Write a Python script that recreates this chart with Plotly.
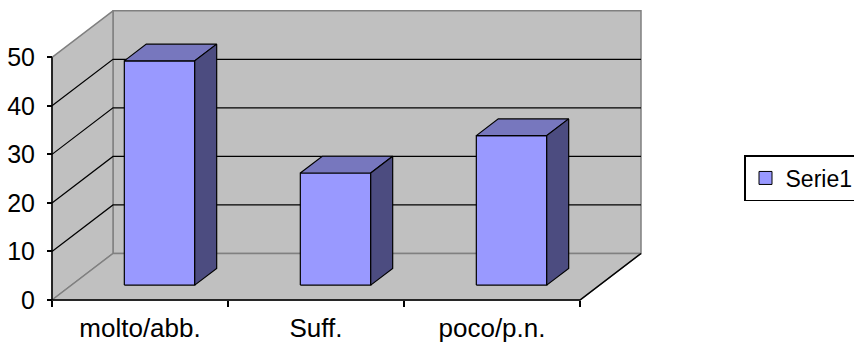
import plotly.graph_objects as go

# Data
categories = ["molto/abb.", "Suff.", "poco/p.n."]
values = [46.2, 23.1, 30.8]
series_name = "Serie1"
y_ticks = [0, 10, 20, 30, 40, 50]

# Styling / geometry of the oblique 3D box
W, H = 854, 344
PX_PER_CAT = 176.0          # pixels per category slot
PX_PER_UNIT = 4.854         # pixels per value unit
FRONT_LEFT_PX = 52          # x pixel of the front-left corner
FRONT_BASE_PX = 300         # y pixel of the front baseline
DEPTH_DX = 61 / PX_PER_CAT  # depth shift in category units
DEPTH_DY = 46.5 / PX_PER_UNIT  # depth shift in value units
BAR_W = 0.4
F1, F2 = 0.32, 0.68         # bar depth span (fraction of box depth)

WALL = "#C0C0C0"
WALL_EDGE = "#808080"
FRONT_C = "#9999FF"
TOP_C = "#7777BE"
SIDE_C = "#4C4C80"
FONT = "Arial, Liberation Sans, sans-serif"

x_min = -0.5 - FRONT_LEFT_PX / PX_PER_CAT
x_max = x_min + W / PX_PER_CAT
y_min = -(H - FRONT_BASE_PX) / PX_PER_UNIT
y_max = y_min + H / PX_PER_UNIT

n = len(categories)
xl, xr = -0.5, n - 0.5
ytop = y_ticks[-1]

fig = go.Figure()


def poly(xs, ys, fill, line, width=1):
    fig.add_trace(go.Scatter(
        x=list(xs) + [xs[0]], y=list(ys) + [ys[0]], mode="lines",
        fill="toself", fillcolor=fill,
        line=dict(color=line, width=width),
        hoverinfo="skip", showlegend=False))


def seg(xs, ys, color, width=1):
    fig.add_trace(go.Scatter(
        x=xs, y=ys, mode="lines", line=dict(color=color, width=width),
        hoverinfo="skip", showlegend=False))


# back wall
poly([xl + DEPTH_DX, xr + DEPTH_DX, xr + DEPTH_DX, xl + DEPTH_DX],
     [DEPTH_DY, DEPTH_DY, ytop + DEPTH_DY, ytop + DEPTH_DY], WALL, WALL_EDGE, 1.5)
# left side wall
poly([xl, xl + DEPTH_DX, xl + DEPTH_DX, xl],
     [0, DEPTH_DY, ytop + DEPTH_DY, ytop], WALL, WALL_EDGE, 1.5)
# floor
poly([xl, xr, xr + DEPTH_DX, xl + DEPTH_DX],
     [0, 0, DEPTH_DY, DEPTH_DY], WALL, WALL_EDGE, 1.5)

# gridlines on side and back walls
for t in y_ticks[1:-1]:
    seg([xl, xl + DEPTH_DX, xr + DEPTH_DX],
        [t, t + DEPTH_DY, t + DEPTH_DY], "black", 1.2)

# bars
for i, v in enumerate(values):
    x0 = i - BAR_W / 2 + F1 * DEPTH_DX
    x1 = i + BAR_W / 2 + F1 * DEPTH_DX
    yb = F1 * DEPTH_DY
    yt = v + F1 * DEPTH_DY
    ddx = (F2 - F1) * DEPTH_DX
    ddy = (F2 - F1) * DEPTH_DY
    poly([x0, x1, x1, x0], [yb, yb, yt, yt], FRONT_C, "black", 1.2)
    poly([x0, x1, x1 + ddx, x0 + ddx], [yt, yt, yt + ddy, yt + ddy], TOP_C, "black", 1.2)
    poly([x1, x1 + ddx, x1 + ddx, x1], [yb, yb + ddy, yt + ddy, yt], SIDE_C, "black", 1.2)

# front floor edge, right floor edge and value axis line
seg([xr + DEPTH_DX, xr, xl, xl], [DEPTH_DY, 0, 0, ytop], "black", 1.5)

# legend entry
fig.add_trace(go.Scatter(
    x=[None], y=[None], mode="markers", name=series_name,
    marker=dict(symbol="square", size=13, color=FRONT_C,
                line=dict(color="black", width=1))))

fig.update_layout(
    width=W, height=H,
    margin=dict(l=0, r=0, t=0, b=0, autoexpand=False),
    paper_bgcolor="white", plot_bgcolor="white",
    font=dict(family=FONT, size=23, color="black"),
    showlegend=True,
    legend=dict(x=744 / W, y=1 - 155 / H, xanchor="left", yanchor="top",
                bordercolor="black", borderwidth=1.5, bgcolor="white",
                font=dict(size=23), itemsizing="trace"),
    xaxis=dict(
        range=[x_min, x_max], domain=[0, 1],
        anchor="free", position=(0 - y_min) / (y_max - y_min),
        tickmode="array", tickvals=list(range(n)), ticktext=categories,
        ticks="", showgrid=False, zeroline=False, showline=False,
        ticklabelstandoff=10, tickfont=dict(size=26),
        minor=dict(tickmode="array", tickvals=[k - 0.5 for k in range(n + 1)],
                   ticks="outside", ticklen=6, tickcolor="black", tickwidth=1.5,
                   showgrid=False),
    ),
    yaxis=dict(
        range=[y_min, y_max], domain=[0, 1],
        anchor="free", position=(xl - x_min) / (x_max - x_min),
        tickmode="array", tickvals=y_ticks,
        ticks="outside", ticklen=5, tickcolor="black", tickwidth=1.5,
        showgrid=False, zeroline=False, showline=False,
        ticklabelstandoff=7, tickfont=dict(size=25),
    ),
)

fig.write_html("out.html")
